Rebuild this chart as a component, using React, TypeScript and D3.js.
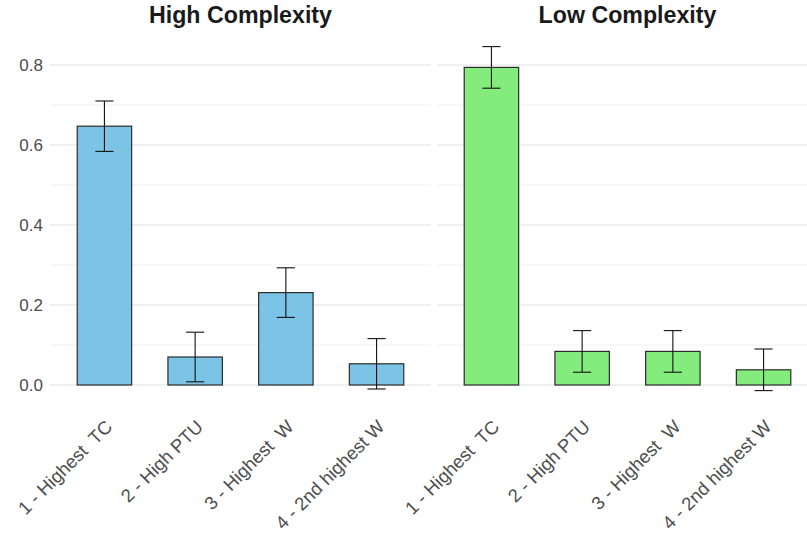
import React from "react";
import * as d3 from "d3";

const categories = ["1 - Highest  TC", "2 - High PTU", "3 - Highest  W", "4 - 2nd highest W"];
const panelTitles = ["High Complexity", "Low Complexity"];
const highMeans = [0.647, 0.07, 0.231, 0.053];
const highErr = [0.063, 0.062, 0.062, 0.063];
const lowMeans = [0.794, 0.084, 0.084, 0.038];
const lowErr = [0.052, 0.052, 0.052, 0.052];
const yTicks = [0, 0.2, 0.4, 0.6, 0.8];
const yMinor = [0.1, 0.3, 0.5, 0.7];

const W = 807;
const H = 533;
const font = "'Liberation Sans', Arial, Helvetica, sans-serif";

const panels = [
  { title: panelTitles[0], means: highMeans, err: highErr, fill: "#7bc4e5", x0: 50, x1: 431 },
  { title: panelTitles[1], means: lowMeans, err: lowErr, fill: "#84ec7d", x0: 437, x1: 818 },
];

const y = d3.scaleLinear().domain([0, 0.8]).range([385, 65]);

const Panel = ({ p }) => {
  const x = d3.scalePoint().domain(categories).range([p.x0, p.x1]).padding(0.6);
  const step = x.step();
  const barW = step * 0.6;
  const capW = step * 0.2;
  const gx1 = Math.min(p.x1, W);
  return (
    <g>
      {yMinor.map((t) => (
        <line key={"m" + t} x1={p.x0} x2={gx1} y1={y(t)} y2={y(t)} stroke="#f0f0f0" strokeWidth={1} />
      ))}
      {yTicks.map((t) => (
        <line key={"M" + t} x1={p.x0} x2={gx1} y1={y(t)} y2={y(t)} stroke="#ebebeb" strokeWidth={1.3} />
      ))}
      <text
        x={(p.x0 + p.x1) / 2}
        y={23}
        textAnchor="middle"
        fontFamily={font}
        fontWeight="bold"
        fontSize={23.2}
        fill="#1a1a1a"
      >
        {p.title}
      </text>
      {categories.map((c, i) => {
        const cx = x(c);
        const v = p.means[i];
        return (
          <g key={c}>
            <rect
              x={cx - barW / 2}
              y={y(v)}
              width={barW}
              height={y(0) - y(v)}
              fill={p.fill}
              stroke="#2b2b2b"
              strokeWidth={1.2}
            />
            <line x1={cx} x2={cx} y1={y(v + p.err[i])} y2={y(v - p.err[i])} stroke="#111" strokeWidth={1.1} />
            <line x1={cx - capW / 2} x2={cx + capW / 2} y1={y(v + p.err[i])} y2={y(v + p.err[i])} stroke="#111" strokeWidth={1.1} />
            <line x1={cx - capW / 2} x2={cx + capW / 2} y1={y(v - p.err[i])} y2={y(v - p.err[i])} stroke="#111" strokeWidth={1.1} />
            <text
              transform={`translate(${cx + 9},${428}) rotate(-45)`}
              textAnchor="end"
              fontFamily={font}
              fontSize={18.5}
              fill="#4d4d4d"
              style={{ whiteSpace: "pre" }}
            >
              {c}
            </text>
          </g>
        );
      })}
    </g>
  );
};

export default function App() {
  return (
    <svg width={W} height={H} style={{ position: "absolute", left: 0, top: 0, background: "#fff" }}>
      <rect width={W} height={H} fill="#fff" />
      {yTicks.map((t) => (
        <text
          key={t}
          x={43}
          y={y(t)}
          dy="0.36em"
          textAnchor="end"
          fontFamily={font}
          fontSize={17}
          fill="#4d4d4d"
        >
          {d3.format(".1f")(t)}
        </text>
      ))}
      {panels.map((p) => (
        <Panel key={p.title} p={p} />
      ))}
    </svg>
  );
}
